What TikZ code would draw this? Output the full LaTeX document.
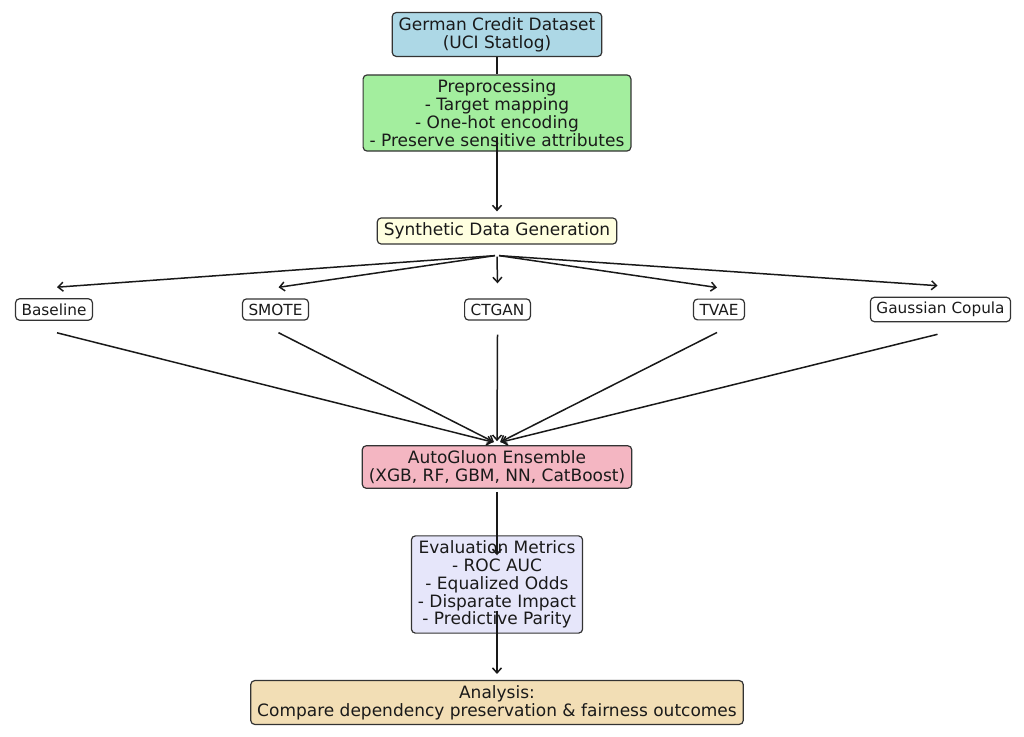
\documentclass[tikz,border=0pt]{standalone}
\usepackage{fontspec}
\setmainfont{DejaVu Sans}
\usetikzlibrary{arrows.meta}
\definecolor{cblue}{HTML}{ADD8E6}
\definecolor{cgreen}{HTML}{A3EE9E}
\definecolor{cyellow}{HTML}{FFFFE0}
\definecolor{cpink}{HTML}{F4B6C2}
\definecolor{clav}{HTML}{E6E6FA}
\definecolor{cwheat}{HTML}{F2DEB5}
\definecolor{cedge}{HTML}{333333}
\definecolor{ctext}{HTML}{1A1A1A}
\tikzset{
  box/.style={draw=cedge, line width=1.2pt, rounded corners=4pt, align=center,
    inner xsep=6.5pt, inner ysep=4.8pt, text=ctext,
    font=\fontsize{17}{17.8}\selectfont},
  mbox/.style={box, fill=white, inner xsep=6pt, font=\fontsize{15.3}{17}\selectfont},
  arr/.style={draw=black!90, line width=1.5pt, -{Straight Barb[length=5pt,width=9pt]}},
  plain/.style={draw=black!90, line width=1.5pt}
}
\begin{document}
\begin{tikzpicture}[x=1pt,y=-1pt]
\useasboundingbox (0,0) rectangle (1024,736);
\node[box, fill=cblue] (ds) at (497,34.5) {German Credit Dataset\\(UCI Statlog)};
\node[box, fill=cgreen] (pre) at (497,113) {Preprocessing\\- Target mapping\\- One-hot encoding\\- Preserve sensitive attributes};
\node[box, fill=cyellow] (syn) at (497,231) {Synthetic Data Generation};
\node[mbox] (base) at (54,309.5) {Baseline};
\node[mbox] (smote) at (275.5,309.5) {SMOTE};
\node[mbox] (ctgan) at (497.5,309.5) {CTGAN};
\node[mbox] (tvae) at (719,309.5) {TVAE};
\node[mbox] (gc) at (940.5,309.5) {Gaussian Copula};
\node[box, fill=cpink] (auto) at (497,467) {AutoGluon Ensemble\\(XGB, RF, GBM, NN, CatBoost)};
\node[box, fill=clav] (eval) at (497,584.5) {Evaluation Metrics\\- ROC AUC\\- Equalized Odds\\- Disparate Impact\\- Predictive Parity};
\node[box, fill=cwheat] (ana) at (497,702.5) {Analysis:\\Compare dependency preservation \& fairness outcomes};

\draw[plain] (ds.south) -- (pre.north);
\draw[arr] ([yshift=15pt]pre.south) -- ([yshift=6pt]syn.north);
\draw[arr] ([xshift=-2pt,yshift=-11pt]syn.south) -- ([xshift=3pt,yshift=11pt]base.north);
\draw[arr] ([xshift=-2pt,yshift=-11pt]syn.south) -- ([xshift=3pt,yshift=11pt]smote.north);
\draw[arr] ([yshift=-12pt]syn.south) -- ([yshift=15pt]ctgan.north);
\draw[arr] ([xshift=2pt,yshift=-11pt]syn.south) -- ([xshift=-2pt,yshift=11pt]tvae.north);
\draw[arr] ([xshift=2pt,yshift=-11pt]syn.south) -- ([xshift=-3pt,yshift=11pt]gc.north);
\draw[arr] ([xshift=3pt,yshift=-12pt]base.south) -- ([xshift=-4pt,yshift=3pt]auto.north);
\draw[arr] ([xshift=3pt,yshift=-12pt]smote.south) -- ([xshift=-3pt,yshift=3pt]auto.north);
\draw[arr] ([yshift=-14pt]ctgan.south) -- ([yshift=4pt]auto.north);
\draw[arr] ([xshift=-2pt,yshift=-12pt]tvae.south) -- ([xshift=3pt,yshift=3pt]auto.north);
\draw[arr] ([xshift=-3pt,yshift=-12pt]gc.south) -- ([xshift=4pt,yshift=3pt]auto.north);
\draw[arr] ([yshift=-3pt]auto.south) -- ([yshift=-20pt]eval.north);
\draw[arr] ([yshift=23pt]eval.south) -- ([yshift=6pt]ana.north);
\end{tikzpicture}
\end{document}
